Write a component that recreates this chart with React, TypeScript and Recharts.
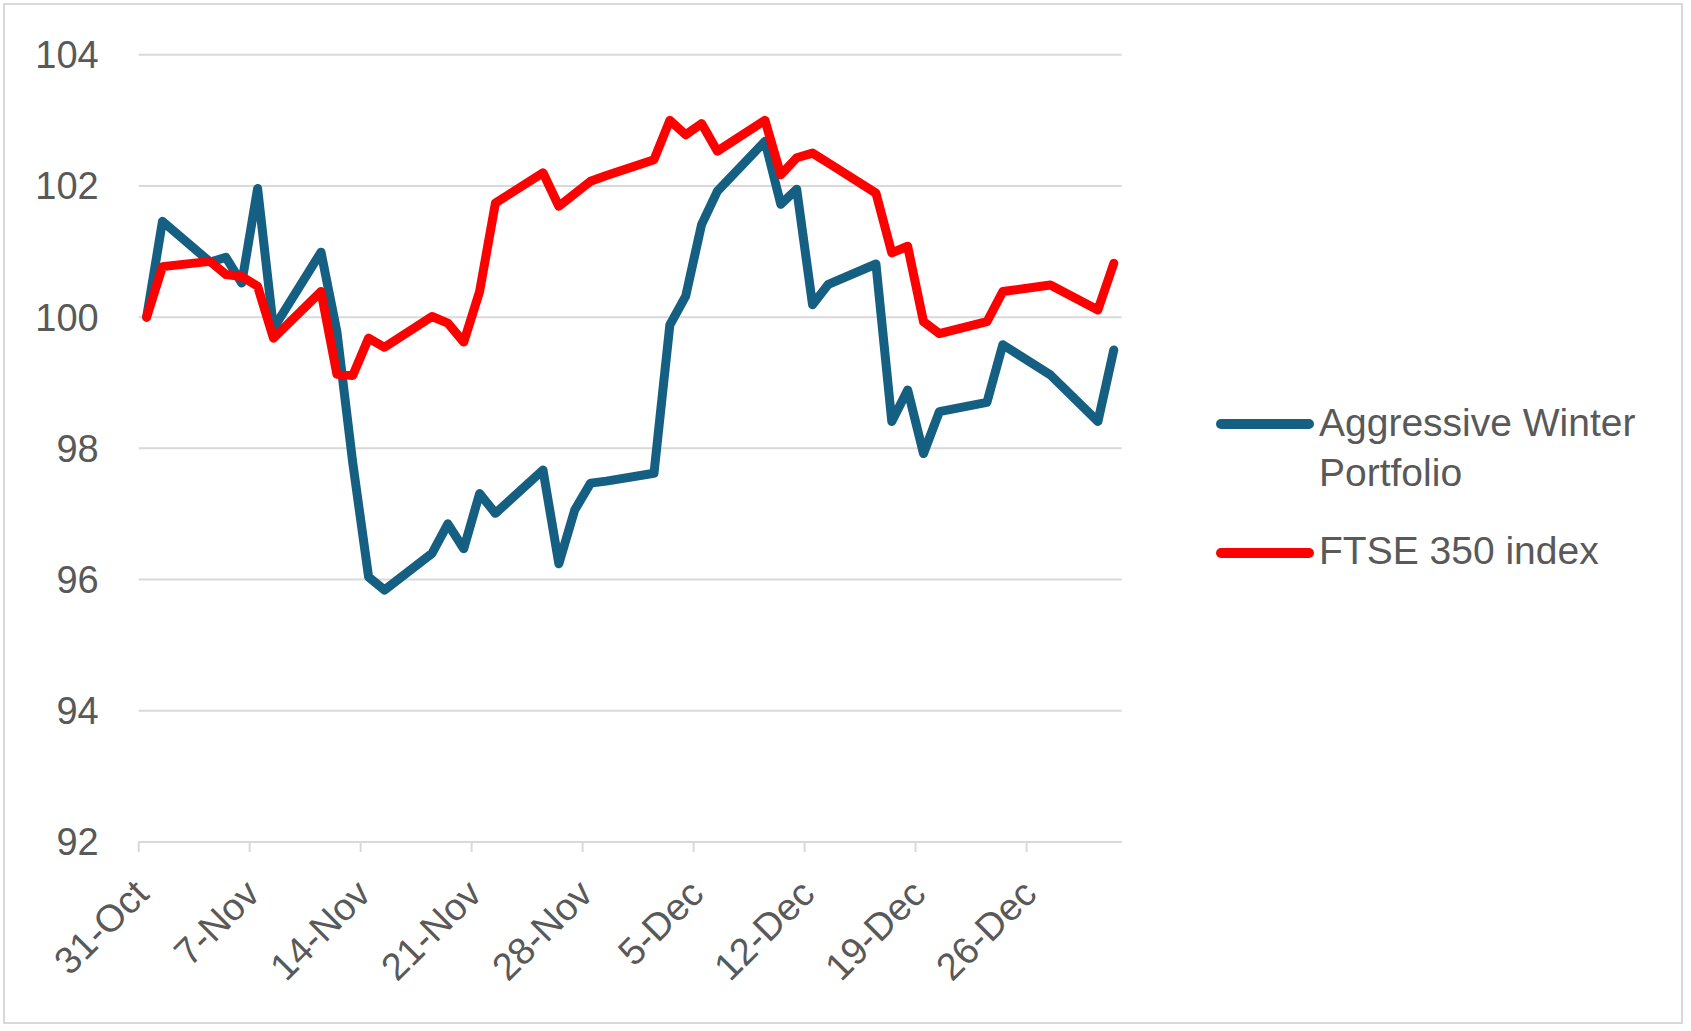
import { LineChart, Line, XAxis, YAxis, CartesianGrid } from "recharts";

// trading days, counted from 31-Oct
const tradingDays = [
  0, 1, 4, 5, 6, 7, 8, 11, 12, 13, 14, 15, 18, 19, 20, 21, 22, 25, 26, 27, 28, 29,
  32, 33, 34, 35, 36, 39, 40, 41, 42, 43, 46, 47, 48, 49, 50, 53, 54, 57, 60, 61,
];

const portfolio = [
  100.0, 101.46, 100.84, 100.91, 100.52, 101.96, 99.83, 100.99, 99.78, 97.78, 96.04, 95.84,
  96.4, 96.85, 96.47, 97.31, 97.01, 97.67, 96.24, 97.06, 97.47, 97.5,
  97.62, 99.88, 100.32, 101.41, 101.92, 102.68, 101.72, 101.95, 100.19, 100.5,
  100.81, 98.41, 98.89, 97.92, 98.56, 98.7, 99.58, 99.12, 98.41, 99.5,
];

const ftse350 = [
  100.0, 100.77, 100.85, 100.65, 100.62, 100.47, 99.68, 100.39, 99.13, 99.11, 99.68, 99.54,
  100.01, 99.91, 99.62, 100.39, 101.74, 102.2, 101.69, 101.88, 102.07, 102.16,
  102.4, 103.0, 102.78, 102.95, 102.53, 103.0, 102.17, 102.43, 102.5, 102.35,
  101.89, 100.98, 101.08, 99.93, 99.75, 99.93, 100.39, 100.49, 100.11, 100.82,
];

const xTicks = [0, 7, 14, 21, 28, 35, 42, 49, 56];
const xTickLabels = ["31-Oct", "7-Nov", "14-Nov", "21-Nov", "28-Nov", "5-Dec", "12-Dec", "19-Dec", "26-Dec"];
const yTicks = [92, 94, 96, 98, 100, 102, 104];

const series = [
  { key: "portfolio", lines: ["Aggressive Winter", "Portfolio"], color: "#156082" },
  { key: "ftse", lines: ["FTSE 350 index"], color: "#FF0000" },
];

// each day is a slot on the date axis; the point sits in the middle of it
const data = tradingDays.map((d, i) => ({
  x: d + 0.5,
  portfolio: portfolio[i],
  ftse: ftse350[i],
}));

const TEXT = "#595959";
const GRID = "#d9d9d9";
const FONT_SIZE = 38;

function DateTick(props: any) {
  const { x, y, payload } = props;
  const idx = xTicks.indexOf(payload.value);
  return (
    <g transform={`translate(${x + 12},${y + 44})`}>
      <text textAnchor="end" transform="rotate(-45)" fill={TEXT} fontSize={FONT_SIZE}>
        {xTickLabels[idx]}
      </text>
    </g>
  );
}

export default function App() {
  return (
    <div
      style={{
        position: "absolute",
        left: 0,
        top: 0,
        width: 1691,
        height: 1031,
        background: "#fff",
        fontFamily: '"Liberation Sans", Arial, sans-serif',
      }}
    >
      <div
        style={{
          position: "absolute",
          left: 3,
          top: 3,
          width: 1680,
          height: 1021,
          boxSizing: "border-box",
          border: `2px solid ${GRID}`,
        }}
      />
      <div style={{ position: "absolute", left: 0, top: 0 }}>
        <LineChart
          width={1691}
          height={1031}
          data={data}
          margin={{ top: 54.7, right: 569.3, bottom: 129, left: 0 }}
        >
          <CartesianGrid vertical={false} stroke={GRID} strokeWidth={2} />
          <XAxis
            type="number"
            dataKey="x"
            domain={[0, 62]}
            ticks={xTicks}
            interval={0}
            height={60}
            axisLine={{ stroke: GRID, strokeWidth: 2 }}
            tickLine={{ stroke: GRID, strokeWidth: 2 }}
            tickSize={10}
            tickMargin={0}
            tick={<DateTick />}
          />
          <YAxis
            type="number"
            domain={[92, 104]}
            ticks={yTicks}
            interval={0}
            width={138.7}
            axisLine={false}
            tickLine={false}
            tickSize={0}
            tickMargin={40}
            tick={{ fill: TEXT, fontSize: FONT_SIZE }}
          />
          {series.map((s) => (
            <Line
              key={s.key}
              type="linear"
              dataKey={s.key}
              stroke={s.color}
              strokeWidth={9}
              strokeLinejoin="round"
              strokeLinecap="round"
              dot={false}
              activeDot={false}
              isAnimationActive={false}
            />
          ))}
        </LineChart>
      </div>
      <svg
        width={1691}
        height={1031}
        style={{ position: "absolute", left: 0, top: 0, pointerEvents: "none" }}
      >
        {series.map((s, i) => {
          const lineY = i === 0 ? 424 : 553;
          const baseY = i === 0 ? 436 : 564;
          return (
            <g key={s.key}>
              <line
                x1={1221}
                x2={1309}
                y1={lineY}
                y2={lineY}
                stroke={s.color}
                strokeWidth={10}
                strokeLinecap="round"
              />
              {s.lines.map((t, j) => (
                <text key={t} x={1319} y={baseY + j * 50} fill={TEXT} fontSize={39}>
                  {t}
                </text>
              ))}
            </g>
          );
        })}
      </svg>
    </div>
  );
}
